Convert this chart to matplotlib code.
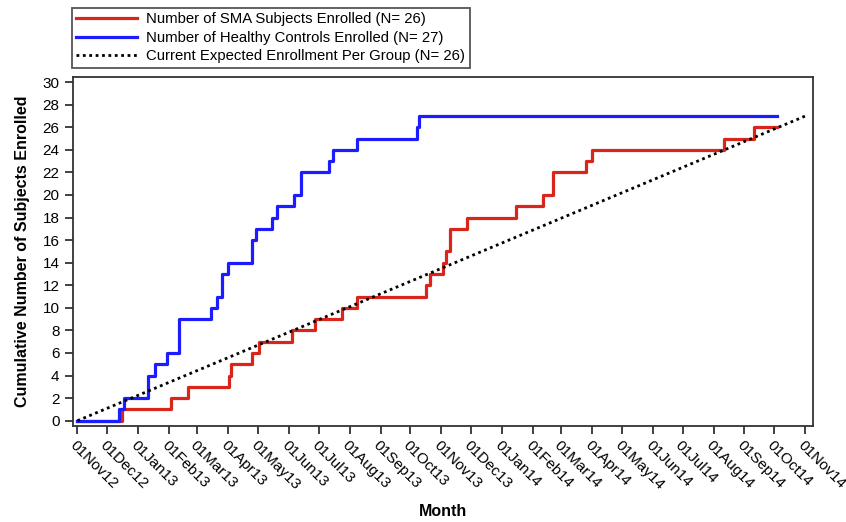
"""Cumulative enrollment of SMA subjects vs healthy controls."""

import matplotlib

matplotlib.use("Agg")
import matplotlib.pyplot as plt
import numpy as np

plt.rcParams["font.family"] = ["Liberation Sans", "DejaVu Sans"]

START = np.datetime64("2012-11-01")

# enrollment step events: (date, cumulative count)
sma_dates = [
    "2012-11-01", "2012-12-16", "2013-02-03", "2013-02-20", "2013-04-02",
    "2013-04-04", "2013-04-25", "2013-05-02", "2013-06-04", "2013-06-27",
    "2013-07-24", "2013-08-08", "2013-10-17", "2013-10-21", "2013-11-03",
    "2013-11-06", "2013-11-10", "2013-11-27", "2014-01-15", "2014-02-11",
    "2014-02-21", "2014-03-26", "2014-04-01", "2014-08-12", "2014-09-11",
    "2014-10-04",
]
sma_counts = [0, 1, 2, 3, 4, 5, 6, 7, 8, 9, 10, 11, 12, 13, 14, 15, 17, 18,
              19, 20, 22, 23, 24, 25, 26, 26]

hc_dates = [
    "2012-11-01", "2012-12-13", "2012-12-18", "2013-01-11", "2013-01-18",
    "2013-01-30", "2013-02-11", "2013-03-15", "2013-03-21", "2013-03-26",
    "2013-04-01", "2013-04-25", "2013-04-29", "2013-05-15", "2013-05-20",
    "2013-06-06", "2013-06-13", "2013-07-11", "2013-07-15", "2013-08-08",
    "2013-10-08", "2013-10-10", "2014-10-04",
]
hc_counts = [0, 1, 2, 4, 5, 6, 9, 10, 11, 13, 14, 16, 17, 18, 19, 20, 22,
             23, 24, 25, 26, 27, 27]

expected_dates = ["2012-11-01", "2014-11-04"]
expected_counts = [0, 27.1]

tick_dates = [
    "2012-11-01", "2012-12-01", "2013-01-01", "2013-02-01", "2013-03-01",
    "2013-04-01", "2013-05-01", "2013-06-01", "2013-07-01", "2013-08-01",
    "2013-09-01", "2013-10-01", "2013-11-01", "2013-12-01", "2014-01-01",
    "2014-02-01", "2014-03-01", "2014-04-01", "2014-05-01", "2014-06-01",
    "2014-07-01", "2014-08-01", "2014-09-01", "2014-10-01", "2014-11-01",
]
tick_labels = [
    "01Nov12", "01Dec12", "01Jan13", "01Feb13", "01Mar13", "01Apr13",
    "01May13", "01Jun13", "01Jul13", "01Aug13", "01Sep13", "01Oct13",
    "01Nov13", "01Dec13", "01Jan14", "01Feb14", "01Mar14", "01Apr14",
    "01May14", "01Jun14", "01Jul14", "01Aug14", "01Sep14", "01Oct14",
    "01Nov14",
]


def _days(dates):
    return (np.array(dates, dtype="datetime64[D]") - START).astype(int)


def main() -> None:
    fig = plt.figure(figsize=(8.46, 5.22), dpi=100)
    ax = fig.add_axes([72.7 / 846, 1 - 426 / 522, 740 / 846, 349 / 522])

    red, = ax.plot(_days(sma_dates), sma_counts, drawstyle="steps-post",
                   color="#d8261c", linewidth=2.3)
    blue, = ax.plot(_days(hc_dates), hc_counts, drawstyle="steps-post",
                    color="#1c1cff", linewidth=2.3)
    dots, = ax.plot(_days(expected_dates), expected_counts, color="black",
                    linestyle=(0, (1, 1.3)), linewidth=2.0)

    ax.set_xlim(-4.8, 737.5)
    ax.set_ylim(-0.47, 30.45)
    ax.set_yticks(np.arange(0, 31, 2))
    ax.set_xticks(_days(tick_dates))
    ax.set_xticklabels(tick_labels, rotation=-45, ha="left", va="top",
                       rotation_mode="anchor")
    ax.tick_params(axis="both", labelsize=11, length=6, width=1.3,
                   color="#333333", labelcolor="black")
    ax.tick_params(axis="x", pad=3)
    for spine in ax.spines.values():
        spine.set_color("#333333")
        spine.set_linewidth(1.3)

    ax.set_ylabel("Cumulative Number of Subjects Enrolled", fontsize=11.5,
                  fontweight="bold", labelpad=9)
    fig.text(442.7 / 846, 1 - 512 / 522, "Month", fontsize=11.5,
             fontweight="bold", ha="center", va="center")

    legend = fig.legend(
        [red, blue, dots],
        [
            "Number of SMA Subjects Enrolled (N= 26)",
            "Number of Healthy Controls Enrolled (N= 27)",
            "Current Expected Enrollment Per Group (N= 26)",
        ],
        loc="upper left",
        bbox_to_anchor=(72 / 846, 1 - 8 / 522),
        fontsize=10.7,
        handlelength=4.1,
        handletextpad=0.6,
        labelspacing=0.3,
        borderpad=0.3,
        borderaxespad=0,
        fancybox=False,
        framealpha=1,
        edgecolor="#555555",
    )
    legend.get_frame().set_linewidth(1.3)

    fig.savefig("out.png", dpi=100)


if __name__ == "__main__":
    main()
